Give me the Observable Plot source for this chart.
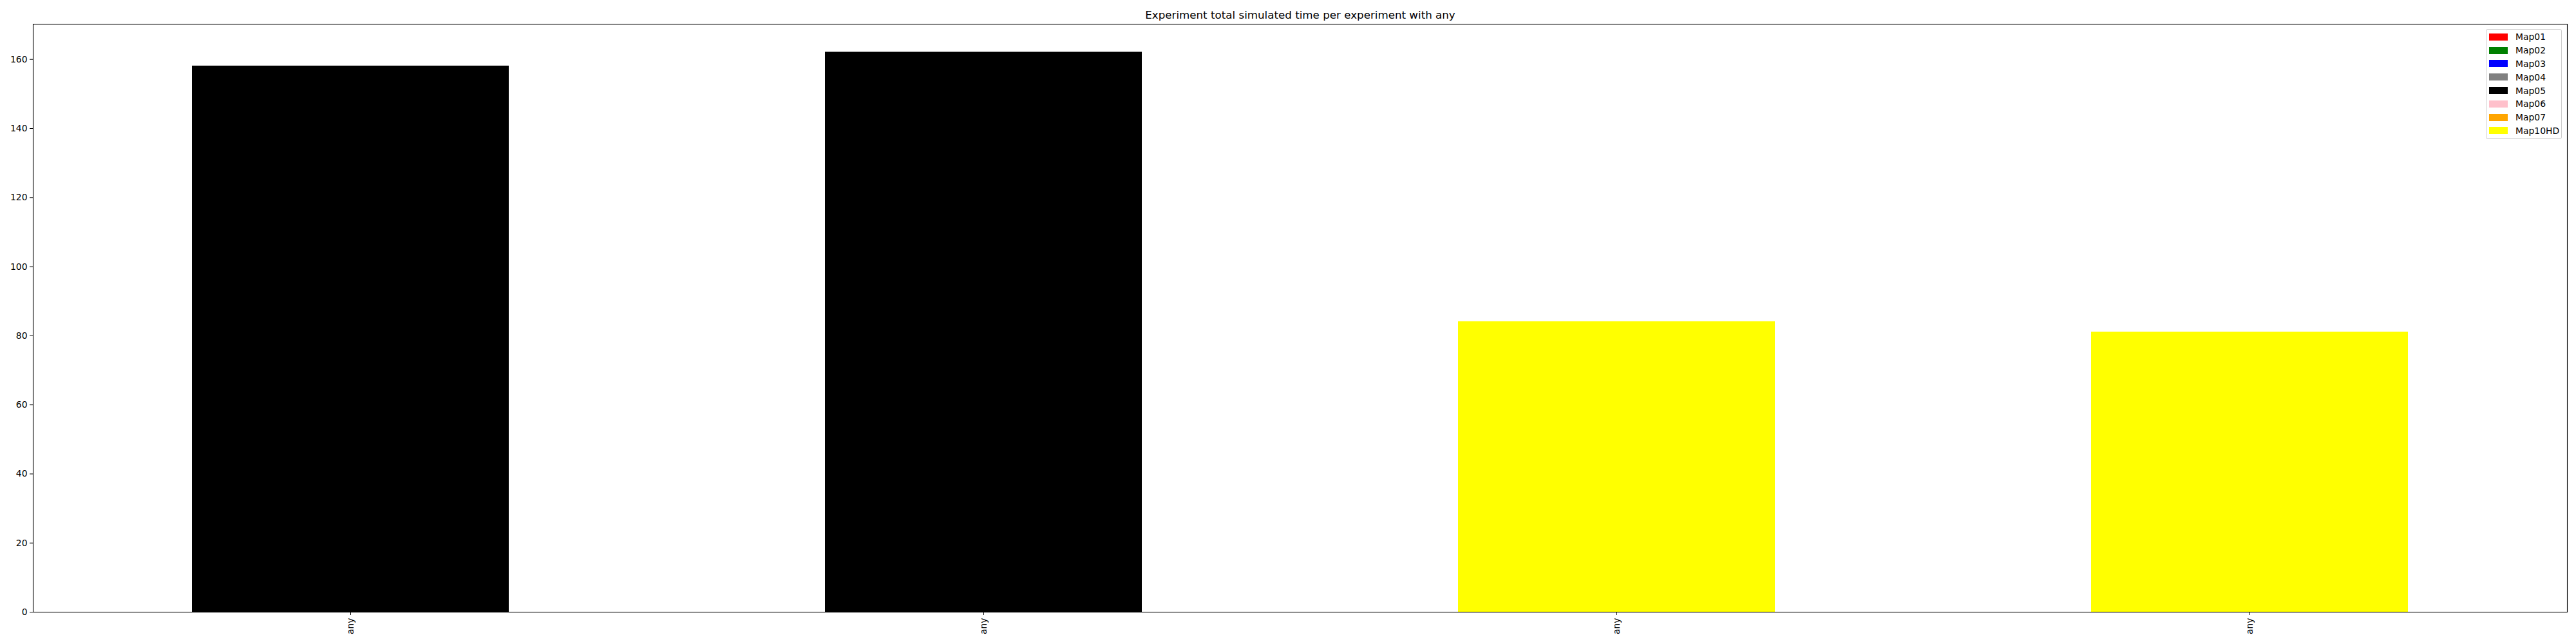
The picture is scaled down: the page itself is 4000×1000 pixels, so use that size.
<!DOCTYPE html>
<html>
<head>
<meta charset="utf-8">
<script src="https://cdn.jsdelivr.net/npm/d3@7"></script>
<script src="https://cdn.jsdelivr.net/npm/@observablehq/plot@0.6"></script>
<style>
  html, body { margin: 0; padding: 0; background: white; }
  #wrap { position: relative; width: 4000px; height: 1000px; font-family: "DejaVu Sans", sans-serif; }
  #legend { position: absolute; left: 3860px; top: 45px; width: 118px; height: 171px; box-sizing: border-box;
            border: 1px solid #cccccc; border-radius: 3px; background: rgba(255,255,255,0.8); padding-top: 1px; }
  .row { height: 20.8px; display: flex; align-items: center; font-size: 13.9px; color: #000; }
  .sw { width: 29px; height: 11px; margin-left: 4px; margin-right: 12px; }
</style>
</head>
<body>
<div id="wrap"></div>
<script>
const titleText = "Experiment total simulated time per experiment with any";
const experiments = ["any", "any", "any", "any"];
const experimentMaps = ["Map05", "Map05", "Map10HD", "Map10HD"];
const experimentValues = [158.1, 162.1, 84.1, 81.1];
const mapNames = ["Map01", "Map02", "Map03", "Map04", "Map05", "Map06", "Map07", "Map10HD"];
const mapColors = ["#ff0000", "#008000", "#0000ff", "#808080", "#000000", "#ffc0cb", "#ffa500", "#ffff00"];
const yTicks = [0, 20, 40, 60, 80, 100, 120, 140, 160];

const data = experiments.map((e, i) => ({i, label: e, map: experimentMaps[i], value: experimentValues[i]}));

const chart = Plot.plot({
  width: 4000,
  height: 1000,
  marginLeft: 51,
  marginRight: 14,
  marginTop: 37,
  marginBottom: 50,
  style: {fontFamily: "DejaVu Sans, sans-serif", fontSize: "13.9px", background: "white", color: "black"},
  x: {type: "band", domain: data.map(d => d.i), paddingInner: 0.5, paddingOuter: 0.25, align: 0.5},
  y: {domain: [0, 170.2], nice: false},
  color: {domain: mapNames, range: mapColors},
  marks: [
    Plot.barY(data, {x: "i", y: "value", fill: "map", inset: 0}),
    Plot.frame({stroke: "black", strokeWidth: 1.1}),
    Plot.axisY({ticks: yTicks, tickSize: 5, tickPadding: 4, label: null, fontSize: 13.9}),
    Plot.axisX({tickSize: 5, tickPadding: 4, tickRotate: -90, label: null, fontSize: 13.9,
                tickFormat: i => experiments[i]}),
    Plot.text([titleText], {frameAnchor: "top", lineAnchor: "bottom", dy: -9, fontSize: 16.7, fill: "black"})
  ]
});

const wrap = document.getElementById("wrap");
wrap.appendChild(chart);

const legend = document.createElement("div");
legend.id = "legend";
mapNames.forEach((name, k) => {
  const row = document.createElement("div");
  row.className = "row";
  const sw = document.createElement("div");
  sw.className = "sw";
  sw.style.background = mapColors[k];
  const lab = document.createElement("span");
  lab.textContent = name;
  row.appendChild(sw);
  row.appendChild(lab);
  legend.appendChild(row);
});
wrap.appendChild(legend);
</script>
</body>
</html>
